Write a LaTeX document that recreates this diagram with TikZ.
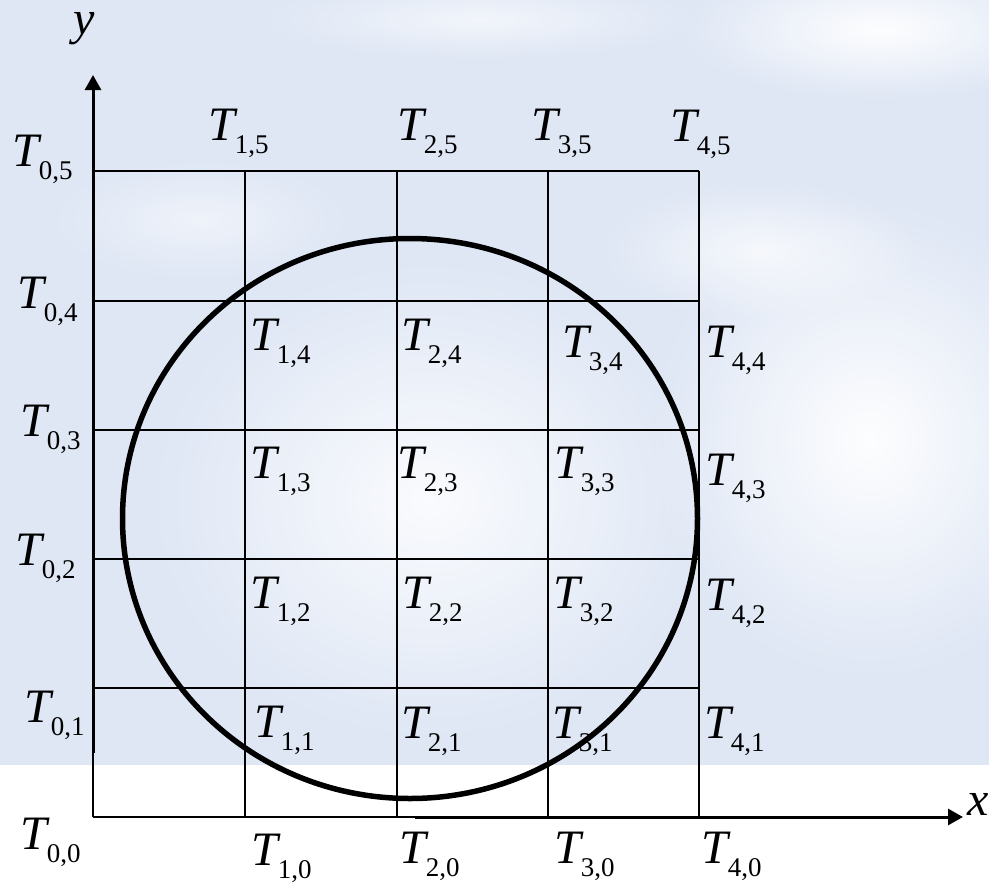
\documentclass[tikz,border=0pt]{standalone}
\usepackage{fontspec}
\setmainfont{Liberation Serif}
\usetikzlibrary{arrows.meta,fadings}
\definecolor{sky}{RGB}{223,231,245}
\tikzfading[name=cloudfade, inner color=transparent!0, outer color=transparent!100]
\newcommand\TTlab[2]{\itshape T\upshape\raisebox{-13pt}{\fontsize{27}{27}\selectfont #1,#2}}
\begin{document}
\begin{tikzpicture}[x=1pt,y=-1pt,
  lab/.style={anchor=base west,inner sep=0pt,xshift=-3pt,font=\fontsize{48}{48}\selectfont},
  gridline/.style={line width=2.2pt},
  axisline/.style={line width=3pt,-{Triangle[length=15pt,width=16pt]}},
  circ/.style={line width=5.5pt},
  cloud/.style={white,path fading=cloudfade}]
\useasboundingbox (0,0) rectangle (989,884);
% background
\fill[sky] (0,0) rectangle (989,765);
\fill[cloud,opacity=0.95] (880,30) ellipse [x radius=200, y radius=70];
\fill[cloud,opacity=0.6] (480,20) ellipse [x radius=220, y radius=40];
\fill[cloud,opacity=0.95] (870,440) ellipse [x radius=220, y radius=240];
\fill[cloud,opacity=0.85] (430,500) ellipse [x radius=280, y radius=240];
\fill[cloud,opacity=0.7] (760,250) ellipse [x radius=160, y radius=70];
\fill[cloud,opacity=0.5] (200,220) ellipse [x radius=150, y radius=60];
\fill[white] (0,765) rectangle (989,884);
% grid
\foreach \x in {93,245,397,548,699} \draw[gridline] (\x,171) -- (\x,817);
\foreach \y in {171,301,430,559,688,817} \draw[gridline] (93,\y) -- (699,\y);
% axes
\coordinate (yb) at (93,753);
\coordinate (yt) at (93,75);
\draw[axisline] (yb) -- (yt);
\coordinate (xb) at (415,817);
\coordinate (xt) at (963,817);
\draw[axisline] (xb) -- (xt);
\node[lab,text height=22pt] (ylab) at (76,34) {\itshape y};
\node[lab] (xlab) at (970,815) {\itshape x};
% labels
\node[lab] (t05) at (15,166) {\TTlab{0}{5}};
\node[lab] (t15) at (211,140) {\TTlab{1}{5}};
\node[lab] (t25) at (400,140) {\TTlab{2}{5}};
\node[lab] (t35) at (534,140) {\TTlab{3}{5}};
\node[lab] (t45) at (673,141) {\TTlab{4}{5}};
\node[lab] (t04) at (20,308) {\TTlab{0}{4}};
\node[lab] (t14) at (253,350) {\TTlab{1}{4}};
\node[lab] (t24) at (404,350) {\TTlab{2}{4}};
\node[lab] (t34) at (565,357) {\TTlab{3}{4}};
\node[lab] (t44) at (708,357) {\TTlab{4}{4}};
\node[lab] (t03) at (23,436) {\TTlab{0}{3}};
\node[lab] (t13) at (253,478) {\TTlab{1}{3}};
\node[lab] (t23) at (400,478) {\TTlab{2}{3}};
\node[lab] (t33) at (557,478) {\TTlab{3}{3}};
\node[lab] (t43) at (708,485) {\TTlab{4}{3}};
\node[lab] (t02) at (18,565) {\TTlab{0}{2}};
\node[lab] (t12) at (253,608) {\TTlab{1}{2}};
\node[lab] (t22) at (405,608) {\TTlab{2}{2}};
\node[lab] (t32) at (556,608) {\TTlab{3}{2}};
\node[lab] (t42) at (708,610) {\TTlab{4}{2}};
\node[lab] (t01) at (27,722) {\TTlab{0}{1}};
\node[lab] (t11) at (257,737) {\TTlab{1}{1}};
\node[lab] (t21) at (404,738) {\TTlab{2}{1}};
\node[lab] (t31) at (555,738) {\TTlab{3}{1}};
\node[lab] (t41) at (707,738) {\TTlab{4}{1}};
\node[lab] (t00) at (23,849) {\TTlab{0}{0}};
\node[lab] (t10) at (254,865) {\TTlab{1}{0}};
\node[lab] (t20) at (402,863) {\TTlab{2}{0}};
\node[lab] (t30) at (557,863) {\TTlab{3}{0}};
\node[lab] (t40) at (704,863) {\TTlab{4}{0}};
% circle
\draw[circ] (410,518.5) ellipse [x radius=287.5, y radius=280];
\end{tikzpicture}
\end{document}
